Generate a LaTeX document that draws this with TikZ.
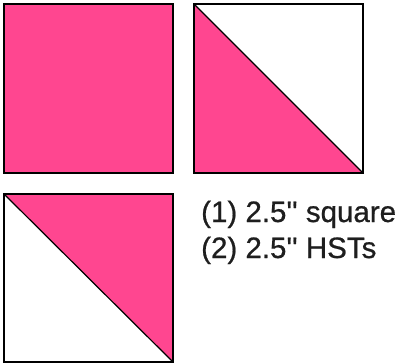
\documentclass[tikz,border=0pt]{standalone}
\usepackage{fontspec}
\setmainfont{Liberation Sans}
\newfontfamily\labelfont[FakeBold=0.7]{Liberation Sans}
\definecolor{hotpink}{HTML}{FF4690}
\definecolor{txt}{HTML}{1E1E1E}
\begin{document}
\begin{tikzpicture}[x=1pt,y=-1pt,
  edge/.style={draw=black,line width=1.6pt,line join=miter},
  pinkfill/.style={fill=hotpink},
  label/.style={anchor=base west,inner sep=0pt,text=txt,font=\labelfont\fontsize{29.5}{36}\selectfont}]
\useasboundingbox (0,0) rectangle (408,364);
% square 1
\fill[pinkfill] (4,4) rectangle (173,173);
\draw[edge] (4,4) rectangle (173,173);
% square 2 (HST, pink lower-left)
\fill[pinkfill] (194,4) -- (194,173) -- (363,173) -- cycle;
\draw[edge] (194,4) rectangle (363,173);
\draw[draw=black,line width=1.2pt] (194,4) -- (363,173);
% square 3 (HST, pink upper-right)
\fill[pinkfill] (4,194) -- (173,194) -- (173,362) -- cycle;
\draw[edge] (4,194) rectangle (173,362);
\draw[draw=black,line width=1.2pt] (4,194) -- (173,362);
% labels
\node[label] (l1) at (201,222) {(1) 2.5\textquotesingle\textquotesingle\ square};
\node[label] (l2) at (201,258) {(2) 2.5\textquotesingle\textquotesingle\ HSTs};
\end{tikzpicture}
\end{document}
